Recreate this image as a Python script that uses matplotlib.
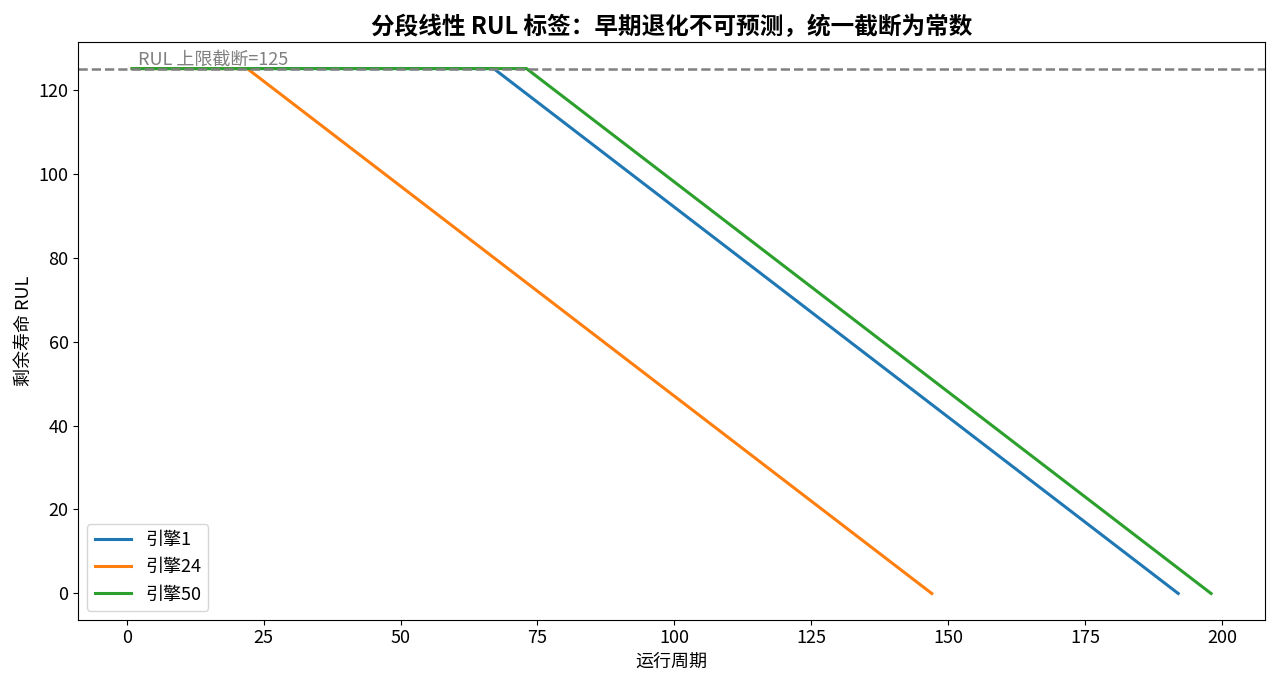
import matplotlib
matplotlib.use("Agg")
import matplotlib.pyplot as plt

plt.rcParams['font.family'] = ['Noto Sans CJK SC', 'DejaVu Sans']
plt.rcParams['axes.unicode_minus'] = False

RUL_CAP = 125
engines = ["引擎1", "引擎24", "引擎50"]
# breakpoints of each piecewise-linear label: start, knee, failure
cycles_x = [[1, 67, 192], [1, 22, 147], [1, 73, 198]]
rul_y = [[125, 125, 0], [125, 125, 0], [125, 125, 0]]

fig, ax = plt.subplots(figsize=(12.8, 6.86), dpi=100)
for name, xs, ys in zip(engines, cycles_x, rul_y):
    ax.plot(xs, ys, linewidth=2.2, label=name)

ax.axhline(RUL_CAP, color="gray", linestyle="--", linewidth=1.8)
ax.text(2, RUL_CAP + 1, "RUL 上限截断=125", color="gray", fontsize=13)

ax.set_title("分段线性 RUL 标签：早期退化不可预测，统一截断为常数",
             fontsize=17, fontweight="bold")
ax.set_xlabel("运行周期", fontsize=13)
ax.set_ylabel("剩余寿命 RUL", fontsize=13)
ax.tick_params(labelsize=13)
ax.legend(loc="lower left", fontsize=13)
ax.set_ylim(-6.25, 131.25)

plt.tight_layout()
plt.savefig("out.png")
